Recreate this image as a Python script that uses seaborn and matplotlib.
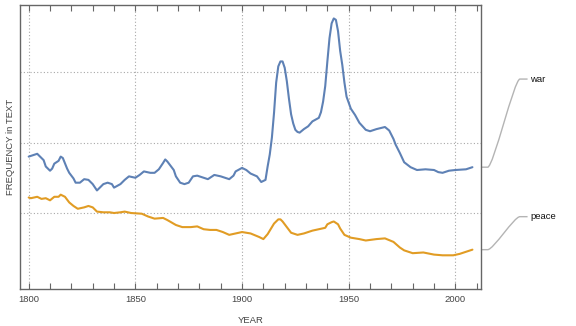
import numpy as np
import pandas as pd
import matplotlib
matplotlib.use("Agg")
import matplotlib.pyplot as plt
import matplotlib.transforms as mtransforms
from matplotlib.path import Path
from matplotlib.patches import PathPatch
import seaborn as sns

# Word frequency in printed text (arbitrary units, smoothed)
war_years = [1800, 1801, 1804, 1807, 1808, 1810, 1811, 1812, 1814, 1815, 1816, 1818, 1819,
             1821, 1822, 1824, 1826, 1828, 1830, 1832, 1833, 1835, 1837, 1839, 1840, 1843,
             1845, 1847, 1850, 1852, 1854, 1857, 1859, 1861, 1863, 1864, 1865, 1868, 1869,
             1871, 1873, 1875, 1877, 1879, 1881, 1884, 1887, 1890, 1894, 1896, 1897, 1900,
             1902, 1904, 1907, 1909, 1911, 1912, 1913, 1914, 1915, 1916, 1917, 1918, 1919,
             1920, 1921, 1922, 1923, 1924, 1925, 1926, 1927, 1929, 1931, 1933, 1936, 1937,
             1938, 1939, 1940, 1941, 1942, 1943, 1944, 1945, 1946, 1947, 1948, 1949, 1951,
             1953, 1955, 1958, 1960, 1963, 1967, 1969, 1971, 1972, 1974, 1976, 1979, 1982,
             1986, 1990, 1992, 1994, 1997, 2000, 2005, 2008]
war_values = [1.80, 1.81, 1.84, 1.75, 1.66, 1.60, 1.63, 1.70, 1.74, 1.80, 1.78, 1.63, 1.57,
              1.49, 1.43, 1.43, 1.48, 1.47, 1.41, 1.32, 1.35, 1.41, 1.43, 1.41, 1.36, 1.41,
              1.47, 1.52, 1.50, 1.54, 1.59, 1.57, 1.57, 1.62, 1.71, 1.76, 1.73, 1.61, 1.52,
              1.43, 1.41, 1.43, 1.52, 1.53, 1.51, 1.48, 1.54, 1.52, 1.48, 1.53, 1.59, 1.64,
              1.61, 1.56, 1.52, 1.44, 1.47, 1.66, 1.83, 2.07, 2.42, 2.85, 3.08, 3.15, 3.15,
              3.06, 2.87, 2.62, 2.40, 2.27, 2.18, 2.15, 2.14, 2.19, 2.23, 2.30, 2.35, 2.43,
              2.58, 2.80, 3.15, 3.48, 3.69, 3.76, 3.74, 3.58, 3.30, 3.10, 2.85, 2.65, 2.48,
              2.39, 2.28, 2.18, 2.16, 2.19, 2.22, 2.17, 2.05, 1.97, 1.85, 1.72, 1.65, 1.61,
              1.62, 1.61, 1.58, 1.57, 1.60, 1.61, 1.62, 1.65]

peace_years = [1800, 1801, 1804, 1806, 1808, 1810, 1812, 1814, 1815, 1817, 1819, 1821, 1823,
               1826, 1828, 1830, 1832, 1835, 1838, 1840, 1843, 1845, 1848, 1853, 1856, 1859,
               1863, 1865, 1869, 1872, 1876, 1879, 1882, 1885, 1888, 1891, 1894, 1897, 1900,
               1904, 1908, 1910, 1912, 1915, 1917, 1918, 1919, 1921, 1923, 1926, 1929, 1933,
               1936, 1939, 1940, 1942, 1943, 1945, 1946, 1948, 1951, 1955, 1958, 1963, 1967,
               1971, 1974, 1976, 1980, 1985, 1990, 1994, 1999, 2002, 2005, 2008]
peace_values = [1.22, 1.21, 1.23, 1.20, 1.21, 1.18, 1.23, 1.23, 1.26, 1.23, 1.15, 1.10, 1.06,
                1.08, 1.10, 1.08, 1.02, 1.01, 1.01, 1.00, 1.01, 1.02, 1.00, 0.99, 0.95, 0.92,
                0.93, 0.90, 0.83, 0.80, 0.80, 0.81, 0.77, 0.76, 0.76, 0.73, 0.69, 0.71, 0.73,
                0.71, 0.66, 0.63, 0.70, 0.85, 0.91, 0.91, 0.88, 0.80, 0.72, 0.69, 0.71, 0.75,
                0.77, 0.79, 0.84, 0.87, 0.88, 0.84, 0.78, 0.69, 0.65, 0.63, 0.61, 0.63, 0.64,
                0.59, 0.51, 0.47, 0.43, 0.44, 0.41, 0.40, 0.40, 0.42, 0.45, 0.48]

words = ["war", "peace"]
colors = ["#5E81B5", "#E19C24"]

df = pd.concat([
    pd.DataFrame({"year": war_years, "freq": war_values, "word": "war"}),
    pd.DataFrame({"year": peace_years, "freq": peace_values, "word": "peace"}),
], ignore_index=True)

sns.set_theme(style="white")
plt.rcParams["font.family"] = ["Liberation Sans", "DejaVu Sans"]

fig = plt.figure(figsize=(5.76, 3.26), dpi=100)
ax = fig.add_axes([0.0339, 0.1135, 0.8011, 0.8721])

sns.lineplot(data=df, x="year", y="freq", hue="word", hue_order=words,
             palette=colors, linewidth=1.5, legend=False, ax=ax, sort=True)

ax.set_xlim(1795.7, 2012)
ax.set_ylim(-0.078, 3.955)

# dotted grid
grid_kw = dict(color="#a8a8a8", linewidth=0.8, linestyle=(0, (1, 2)), zorder=0)
for gx in [1800, 1850, 1900, 1950, 2000]:
    ax.axvline(gx, **grid_kw)
for gy in [1, 2, 3]:
    ax.axhline(gy, **grid_kw)

ax.set_xticks([1800, 1850, 1900, 1950, 2000])
ax.set_xticks(np.arange(1800, 2011, 10), minor=True)
ax.set_yticks([])
ax.tick_params(axis="x", which="both", direction="in", top=True, bottom=True,
               length=4, width=0.8, color="#666666", labelsize=6.8,
               labelcolor="#444444", pad=4)
for s in ax.spines.values():
    s.set_color("#666666")
    s.set_linewidth(1.0)

ax.set_xlabel("YEAR", fontsize=6.8, color="#444444", labelpad=9)
ax.set_ylabel("FREQUENCY in TEXT", fontsize=6.8, color="#444444", labelpad=3)

# line labels with leaders outside the right edge
trans = mtransforms.blended_transform_factory(ax.transAxes, ax.transData)
label_y = {"war": 2.90, "peace": 0.948}
ends = {"war": war_values[-1], "peace": peace_values[-1]}
x0, x1, x2, x3 = 1.0, 1.0145, 1.0845, 1.101
for w in words:
    y0, y1 = ends[w], label_y[w]
    dx = x2 - x1
    verts = [(x0, y0), (x1, y0),
             (x1 + 0.18 * dx, y0), (x2 - 0.18 * dx, y1), (x2, y1),
             (x3, y1)]
    codes = [Path.MOVETO, Path.LINETO, Path.CURVE4, Path.CURVE4, Path.CURVE4, Path.LINETO]
    patch = PathPatch(Path(verts, codes), facecolor="none", edgecolor="#b4b4b4",
                      linewidth=1.0, transform=trans, clip_on=False)
    ax.add_patch(patch)
    ax.text(x3 + 0.006, y1, w, transform=trans, fontsize=6.8, color="#111111",
            va="center", ha="left")

fig.savefig("out.png", dpi=100)
